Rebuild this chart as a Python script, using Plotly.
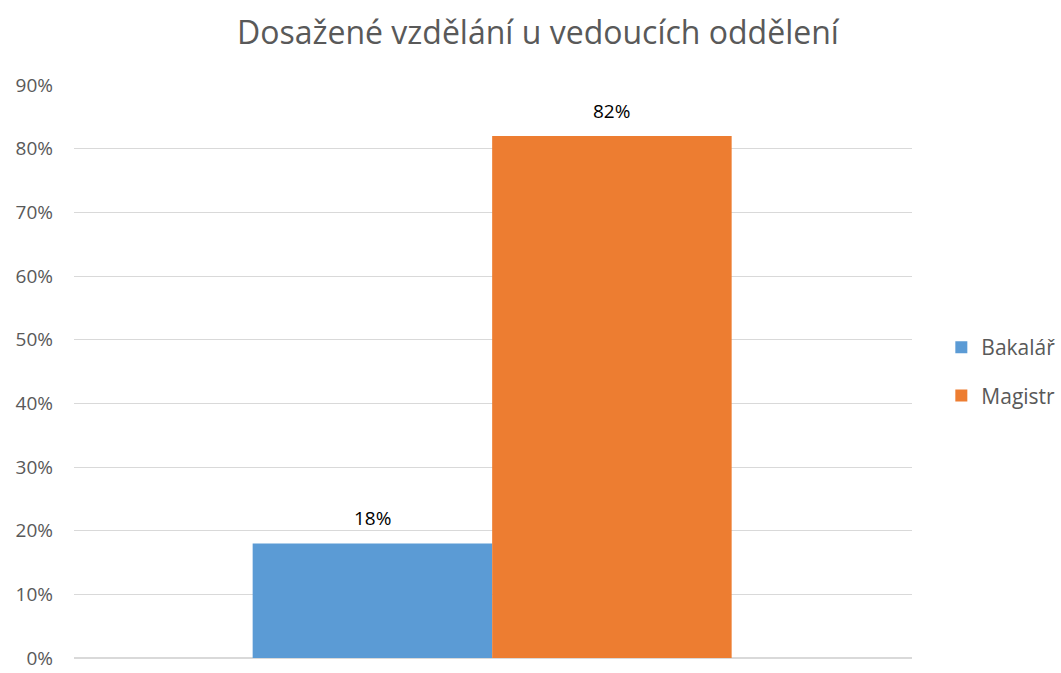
import plotly.graph_objects as go

# Data
series_names = ["Bakalář", "Magistr"]
series_values = [0.18, 0.82]
series_colors = ["#5B9BD5", "#ED7D31"]

FONT = "Open Sans, Liberation Sans, sans-serif"

fig = go.Figure()
for i, (name, val, color) in enumerate(zip(series_names, series_values, series_colors)):
    fig.add_trace(go.Bar(
        x=[i],
        y=[val],
        width=1,
        name=name,
        legendgroup=name,
        marker=dict(color=color, line=dict(width=0)),
        hovertemplate="%{y:.0%}<extra>" + name + "</extra>",
    ))
    # data label above the bar
    fig.add_annotation(
        x=i, y=val, text=f"{val:.0%}",
        showarrow=False, yanchor="middle", yshift=25,
        font=dict(size=19, color="#000000", family=FONT),
    )

fig.update_layout(
    title=dict(
        text="Dosažené vzdělání u vedoucích oddělení",
        x=0.507, xanchor="center", y=0.951, yanchor="middle",
        font=dict(size=32, color="#595959", family=FONT),
    ),
    width=1061, height=673,
    margin=dict(l=74, r=149, t=85, b=15, autoexpand=False),
    plot_bgcolor="white",
    paper_bgcolor="white",
    barmode="overlay",
    showlegend=True,
    legend=dict(
        x=1.035, xanchor="left", y=0.5, yanchor="middle",
        font=dict(size=21, color="#595959", family=FONT),
        tracegroupgap=18,
        itemwidth=30,
        traceorder="grouped",
    ),
    xaxis=dict(range=[-1.246, 2.253], showticklabels=False, showline=False,
               showgrid=False, zeroline=False, fixedrange=True, automargin=False),
    yaxis=dict(
        range=[0, 0.9],
        dtick=0.1,
        tickformat=".0%",
        showgrid=True,
        gridcolor="#D9D9D9",
        gridwidth=1,
        zeroline=True,
        zerolinecolor="#D9D9D9",
        tickfont=dict(size=19, color="#595959", family=FONT),
        ticks="",
        ticklabelstandoff=20,
        ticklabeloverflow="allow",
        automargin=False,
        fixedrange=True,
    ),
)

# drop the default page margin so the figure sits at the window origin
fig.write_html(
    "out.html",
    config={"displayModeBar": False},
    post_script="document.body.style.margin='0';",
)
